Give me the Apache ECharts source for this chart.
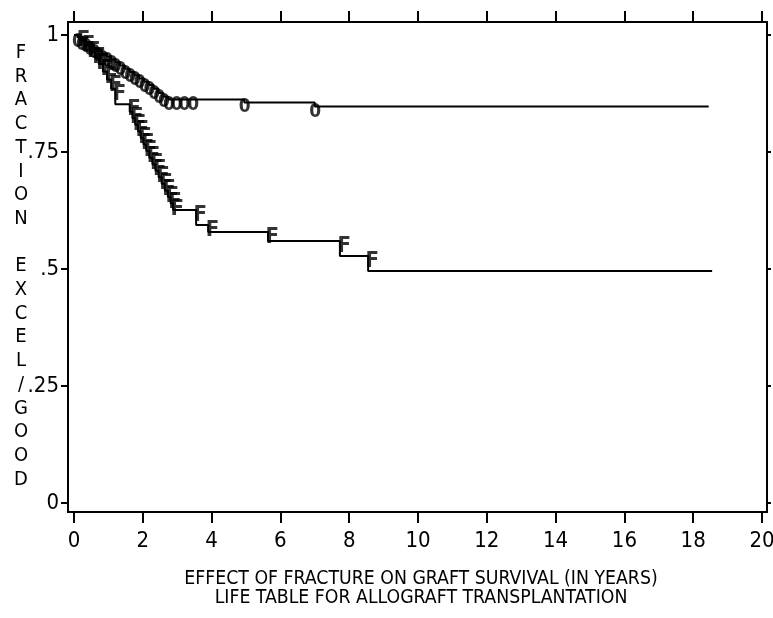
<!DOCTYPE html>
<html>
<head>
<meta charset="utf-8">
<script src="https://cdn.jsdelivr.net/npm/echarts@6/dist/echarts.min.js"></script>
<style>
html,body{margin:0;padding:0;background:#fff;}
#chart{width:773px;height:618px;}
</style>
</head>
<body>
<div id="chart"></div>
<script>
// ---- data (years, fraction) ----
const upperTimes = [0, 0.1, 0.22, 0.34, 0.46, 0.58, 0.7, 0.82, 0.95, 1.08, 1.2, 1.34, 1.48, 1.62, 1.76, 1.9, 2.04, 2.18, 2.32, 2.46, 2.6, 2.75, 4.95, 7.0, 18.45];
const upperSurv  = [1, 0.995, 0.99, 0.984, 0.978, 0.972, 0.966, 0.96, 0.954, 0.948, 0.942, 0.935, 0.928, 0.921, 0.914, 0.907, 0.9, 0.893, 0.885, 0.876, 0.868, 0.862, 0.856, 0.847, 0.847];
const upperMarks = [0.1, 0.22, 0.34, 0.46, 0.58, 0.7, 0.82, 0.95, 1.08, 1.2, 1.34, 1.48, 1.62, 1.76, 1.9, 2.04, 2.18, 2.32, 2.46, 2.6, 2.75, 2.97, 3.2, 3.45, 4.95, 7.0];

const lowerTimes = [0, 0.15, 0.3, 0.45, 0.6, 0.72, 0.84, 0.96, 1.08, 1.2, 1.62, 1.7, 1.78, 1.86, 1.94, 2.02, 2.1, 2.19, 2.28, 2.37, 2.46, 2.55, 2.64, 2.73, 2.81, 2.88, 3.55, 3.9, 5.64, 7.73, 8.55, 18.55];
const lowerSurv  = [1, 0.99, 0.978, 0.965, 0.952, 0.938, 0.922, 0.905, 0.885, 0.852, 0.836, 0.822, 0.808, 0.794, 0.78, 0.766, 0.752, 0.738, 0.724, 0.71, 0.696, 0.682, 0.668, 0.654, 0.64, 0.626, 0.594, 0.579, 0.56, 0.528, 0.496, 0.496];
const lowerMarks = [0.15, 0.3, 0.45, 0.6, 0.72, 0.84, 0.96, 1.08, 1.2, 1.62, 1.7, 1.78, 1.86, 1.94, 2.02, 2.1, 2.19, 2.28, 2.37, 2.46, 2.55, 2.64, 2.73, 2.81, 2.88, 3.55, 3.9, 5.64, 7.73, 8.55];

const xTickValues = [0, 2, 4, 6, 8, 10, 12, 14, 16, 18, 20];
const xTickLabels = ['0','2','4','6','8','10','12','14','16','18','20'];
const yTickValues = [0, 0.25, 0.5, 0.75, 1];
const yTickLabels = ['0','.25','.5','.75','1'];
const xTitleLines = ['EFFECT OF FRACTURE ON GRAFT SURVIVAL (IN YEARS)', 'LIFE TABLE FOR ALLOGRAFT TRANSPLANTATION'];
const yTitle = 'FRACTION EXCEL/GOOD';

// ---- helpers ----
function zip(t, s){ return t.map((v,i)=>[v, s[i]]); }
function levelBefore(times, surv, t){
  let s = surv[0];
  for (let i=0;i<times.length;i++){ if (times[i] < t - 1e-9) s = surv[i]; }
  return s;
}
function levelAt(times, surv, t){
  let s = surv[0];
  for (let i=0;i<times.length;i++){ if (times[i] <= t + 1e-9) s = surv[i]; }
  return s;
}

const FONT = "'DejaVu Sans Condensed', 'DejaVu Sans', sans-serif";
const chart = echarts.init(document.getElementById('chart'), null, {renderer:'canvas'});

const xLab = v => { const i = xTickValues.indexOf(Math.round(v*1000)/1000); return i >= 0 ? xTickLabels[i] : ''; };
const yLab = v => { const i = yTickValues.indexOf(Math.round(v*1000)/1000); return i >= 0 ? yTickLabels[i] : ''; };

const tickStyle = { color: '#000', width: 2 };
const noLine = { show: false, onZero: false };
const option = {
  animation: false,
  backgroundColor: '#fff',
  textStyle: { fontFamily: FONT, color: '#000' },
  title: [
    { text: xTitleLines.join('\n'), left: 416, top: 564, textAlign: 'center',
      textStyle: { fontFamily: FONT, fontSize: 19.3, lineHeight: 19, fontWeight: 'normal', color: '#000' } },
    { text: yTitle.split('').join('\n'), left: 16, top: 36, textAlign: 'center',
      textStyle: { fontFamily: FONT, fontSize: 20, lineHeight: 23.7, fontWeight: 'normal', color: '#000' } }
  ],
  grid: { left: 68, right: 6, top: 22, bottom: 106, containLabel: false, outerBoundsMode: 'none',
          show: true, borderColor: '#000', borderWidth: 2, backgroundColor: 'transparent' },
  xAxis: [
    { type: 'value', position: 'bottom', min: -0.1744, max: 20.145,
      axisLine: noLine, splitLine: { show: false },
      axisTick: { show: true, inside: false, length: 11, customValues: xTickValues, lineStyle: tickStyle },
      axisLabel: { margin: 18, fontSize: 22, color: '#000', fontFamily: FONT, customValues: xTickValues, formatter: xLab } },
    { type: 'value', position: 'top', min: -0.1744, max: 20.145,
      axisLine: noLine, splitLine: { show: false },
      axisTick: { show: true, inside: false, length: 11, customValues: xTickValues, lineStyle: tickStyle },
      axisLabel: { show: false } }
  ],
  yAxis: [
    { type: 'value', position: 'left', min: -0.0192, max: 1.0278,
      axisLine: noLine, splitLine: { show: false },
      axisTick: { show: true, inside: false, length: 7, customValues: yTickValues, lineStyle: tickStyle },
      axisLabel: { margin: 9, fontSize: 22, color: '#000', fontFamily: FONT, customValues: yTickValues, formatter: yLab } },
    { type: 'value', position: 'right', min: -0.0192, max: 1.0278,
      axisLine: noLine, splitLine: { show: false },
      axisTick: { show: true, inside: false, length: 4, customValues: yTickValues, lineStyle: tickStyle },
      axisLabel: { show: false } }
  ],
  series: [
    { type: 'line', xAxisIndex: 0, yAxisIndex: 0, step: 'end', showSymbol: false, symbol: 'none',
      data: zip(upperTimes, upperSurv), lineStyle: { color: '#000', width: 2 } },
    { type: 'line', xAxisIndex: 0, yAxisIndex: 0, step: 'end', showSymbol: false, symbol: 'none',
      data: zip(lowerTimes, lowerSurv), lineStyle: { color: '#000', width: 2 } },
    { type: 'scatter', xAxisIndex: 0, yAxisIndex: 0, symbolSize: 1,
      itemStyle: { color: 'rgba(0,0,0,0)' },
      data: upperMarks.map(t => [t, levelAt(upperTimes, upperSurv, t)]),
      label: { show: true, formatter: '0', position: [0, 0], offset: [-5, -4], align: 'left', verticalAlign: 'top',
        fontFamily: FONT, fontSize: 19, fontWeight: 'bold', color: '#000' } },
    { type: 'scatter', xAxisIndex: 0, yAxisIndex: 0, symbolSize: 1,
      itemStyle: { color: 'rgba(0,0,0,0)' },
      data: lowerMarks.map(t => [t, levelBefore(lowerTimes, lowerSurv, t)]),
      label: { show: true, formatter: 'F', position: [0, 0], offset: [-2, -5], align: 'left', verticalAlign: 'top',
        fontFamily: FONT, fontSize: 22, fontWeight: 'bold', color: '#000' } }
  ]
};
chart.setOption(option);
</script>
</body>
</html>
